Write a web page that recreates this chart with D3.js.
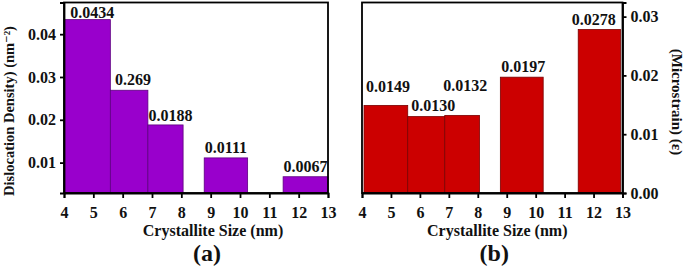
<!DOCTYPE html>
<html><head><meta charset="utf-8">
<script src="https://cdn.jsdelivr.net/npm/d3@7"></script>
<style>
body{margin:0;background:#fff;}
svg text{font-family:"Liberation Serif",Tinos,"DejaVu Serif",serif !important;font-weight:bold;}
</style></head>
<body><svg id="c" width="685" height="270"></svg>
<script>
// ---- data ----
const binStart = [4, 5.58, 6.86, 8.78, 11.47];
const binEnd   = [5.58, 6.86, 8.06, 10.26, 13];
const binStartB = [4.07, 5.58, 6.86, 8.78, 11.47];
const binEndB   = [5.58, 6.86, 8.06, 10.26, 12.93];
const dislocation = [0.0434, 0.0269, 0.0188, 0.0111, 0.0067];
const dislocationLabels = ["0.0434", "0.269", "0.0188", "0.0111", "0.0067"];
const microstrain = [0.0149, 0.0130, 0.0132, 0.0197, 0.0278];
const microstrainLabels = ["0.0149", "0.0130", "0.0132", "0.0197", "0.0278"];
const xTicks = [4, 5, 6, 7, 8, 9, 10, 11, 12, 13];
const yTicksA = [0.01, 0.02, 0.03, 0.04];
const yTicksB = [0.00, 0.01, 0.02, 0.03];

const svg = d3.select("#c");
const FONT = "Liberation Serif";

function panel(o){
  const g = svg.append("g");
  const x = d3.scaleLinear().domain([4, 13]).range([o.left, o.right]);
  const y = d3.scaleLinear().domain(o.yDomain).range([o.bottom, o.top]);
  g.selectAll("rect.bar").data(o.values).join("rect")
    .attr("x", (d,i)=>x(o.starts[i]))
    .attr("width", (d,i)=>x(o.ends[i]) - x(o.starts[i]))
    .attr("y", d=>y(d))
    .attr("height", d=>o.bottom - y(d))
    .attr("fill", o.fill).attr("stroke", o.stroke).attr("stroke-width", 0.8);
  g.selectAll("text.val").data(o.values).join("text")
    .attr("x", (d,i)=>(x(o.starts[i]) + x(o.ends[i]))/2 + o.ldx[i])
    .attr("y", (d,i)=>y(d) - o.ldy[i])
    .attr("text-anchor", "middle").attr("font-size", 16).attr("fill", "#111")
    .attr("font-family", FONT).attr("font-weight", "bold")
    .text((d,i)=>o.labels[i]);
  g.append("rect").attr("x", o.left).attr("y", o.top)
    .attr("width", o.right - o.left).attr("height", o.bottom - o.top)
    .attr("fill", "none").attr("stroke", "#000").attr("stroke-width", 1.8);
  const xa = g.append("g").attr("transform", `translate(0,${o.bottom})`)
    .call(d3.axisBottom(x).tickValues(xTicks).tickSize(5).tickPadding(9).tickFormat(d3.format("d")))
    .attr("font-family", FONT).attr("font-weight", "bold").attr("font-size", 16);
  xa.select(".domain").attr("stroke-width", 1.8);
  xa.selectAll(".tick line").attr("stroke-width", 1.8);
  xa.selectAll("text").attr("fill", "#111");
  const ax = o.side === "left" ? d3.axisLeft(y) : d3.axisRight(y);
  const ya = g.append("g").attr("transform", `translate(${o.side === "left" ? o.left : o.right},0)`)
    .call(ax.tickValues(o.yTicks).tickSize(4).tickPadding(4).tickFormat(d3.format(o.fmt)))
    .attr("font-family", FONT).attr("font-weight", "bold").attr("font-size", 16);
  ya.select(".domain").attr("stroke-width", 1.8);
  ya.selectAll(".tick line").attr("stroke-width", 1.8);
  ya.selectAll("text").attr("fill", "#111");
  const cx = (o.left + o.right)/2;
  const t = (sel)=>sel.attr("font-family", FONT).attr("font-weight", "bold").attr("fill", "#111");
  t(g.append("text").attr("x", cx + o.titleDx).attr("y", 236).attr("text-anchor", "middle")
    .attr("font-size", 16).text("Crystallite Size (nm)"));
  t(g.append("text").attr("x", cx + o.capDx).attr("y", 261).attr("text-anchor", "middle")
    .attr("font-size", 24).text(o.caption));
  t(g.append("text")
    .attr("transform", `translate(${o.yTitleX},${o.yTitleY}) rotate(${o.side === "left" ? -90 : 90})`)
    .attr("text-anchor", "middle").attr("font-size", o.yTitleSize).attr("dy", "0.35em")
    .text(o.yTitle));
}

panel({
  left: 64, right: 328, top: 2.5, bottom: 193,
  yDomain: [0.0029, 0.0474], yTicks: yTicksA, fmt: ".2f", side: "left",
  starts: binStart, ends: binEnd, values: dislocation, labels: dislocationLabels,
  ldx: [5, 4, 5, 0, 0], ldy: [2, 5, 4, 4.5, 5],
  fill: "#9900cc", stroke: "#5e0080",
  titleDx: 17, capDx: 11, caption: "(a)",
  yTitleX: 9, yTitleY: 111, yTitleSize: 14.5,
  yTitle: "Dislocation Density) (nm\u207B\u00B2)"
});

panel({
  left: 362, right: 622.5, top: 2.5, bottom: 193,
  yDomain: [0, 0.0324], yTicks: yTicksB, fmt: ".2f", side: "right",
  starts: binStartB, ends: binEndB, values: microstrain, labels: microstrainLabels,
  ldx: [2, 7, 3, 1.5, -5.5], ldy: [13, 6, 24, 5.5, 4.5],
  fill: "#cc0000", stroke: "#7a0000",
  titleDx: 5, capDx: 2, caption: "(b)",
  yTitleX: 677, yTitleY: 102, yTitleSize: 15,
  yTitle: "(Microstrain) (\u03B5)"
});
</script></body></html>
